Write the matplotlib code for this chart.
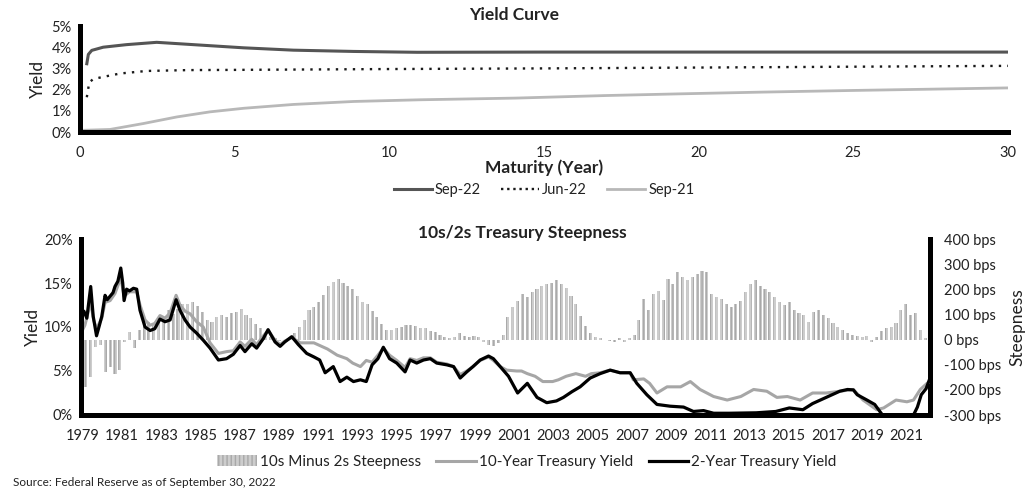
import matplotlib.pyplot as plt
import numpy as np
from matplotlib.patches import Patch
from matplotlib.lines import Line2D

plt.rcParams['font.family'] = ['Lato', 'DejaVu Sans']

# ---- yield curve (maturity in years, yield in %) ----
sep22_mat = [0.22, 0.27, 0.38, 0.75, 1.5, 2.48, 3.67, 5.3, 6.9, 8.85, 10.9, 15, 20, 25, 30]
sep22_yld = [3.22, 3.66, 3.85, 4.00, 4.12, 4.23, 4.12, 3.97, 3.86, 3.80, 3.76, 3.77, 3.77, 3.77, 3.77]

jun22_mat = [0.22, 0.30, 0.43, 0.75, 1.3, 2.16, 3.5, 5, 10, 15, 20, 25, 30]
jun22_yld = [1.64, 2.34, 2.50, 2.60, 2.76, 2.88, 2.92, 2.93, 2.97, 3.00, 3.04, 3.08, 3.12]

sep21_mat = [0.1, 0.97, 2.05, 3.13, 4.2, 5.3, 6.9, 8.85, 11, 14.1, 17, 19.4, 22, 25, 30]
sep21_yld = [0.08, 0.12, 0.40, 0.71, 0.95, 1.12, 1.30, 1.44, 1.52, 1.60, 1.72, 1.80, 1.88, 1.96, 2.08]

# ---- 2-year treasury yield (%) ----
y2_t = [1979.0, 1979.15, 1979.3, 1979.5, 1979.63, 1979.8, 1979.95, 1980.07, 1980.24, 1980.35,
        1980.5, 1980.65, 1980.75, 1980.9, 1981.05, 1981.15, 1981.22, 1981.35, 1981.5, 1981.7,
        1981.87, 1982.04, 1982.3, 1982.56, 1982.8, 1983.07, 1983.33, 1983.59, 1983.9, 1984.1,
        1984.36, 1984.62, 1984.96, 1985.3, 1985.65, 1986.08, 1986.5, 1986.85, 1987.2, 1987.45,
        1987.8, 1988.05, 1988.4, 1988.64, 1989.0, 1989.26, 1989.5, 1989.86, 1990.2, 1990.63,
        1991.0, 1991.3, 1991.58, 1992.0, 1992.35, 1992.7, 1993.04, 1993.4, 1993.7, 1994.0,
        1994.3, 1994.58, 1994.9, 1995.27, 1995.7, 1995.96, 1996.3, 1996.65, 1997.0, 1997.33,
        1997.85, 1998.2, 1998.54, 1998.88, 1999.2, 1999.57, 2000.0, 2000.25, 2000.6, 2001.03,
        2001.5, 2002.0, 2002.5, 2003.0, 2003.5, 2003.86, 2004.3, 2004.72, 2005.24, 2005.75,
        2006.27, 2006.78, 2007.3, 2007.64, 2008.16, 2008.68, 2009.36, 2010.05, 2010.56, 2011.08,
        2011.6, 2012.4, 2013.8, 2014.8, 2015.5, 2016.2, 2016.7, 2017.4, 2018.1, 2018.5,
        2018.8, 2019.0, 2019.5, 2019.9, 2020.3, 2021.0, 2021.9, 2022.1, 2022.3, 2022.55, 2022.75]
y2_v = [11.5, 11.8, 11.0, 14.6, 11.2, 9.0, 10.2, 11.2, 13.6, 13.1,
        13.5, 13.9, 14.6, 15.2, 16.7, 15.0, 13.0, 14.3, 14.1, 14.4,
        14.3, 11.9, 10.0, 9.6, 9.8, 10.9, 10.6, 10.8, 13.1, 11.9,
        10.8, 10.0, 9.3, 8.5, 7.6, 6.25, 6.4, 6.9, 7.9, 7.2,
        8.1, 7.6, 8.7, 9.7, 8.3, 7.8, 8.3, 8.9, 8.0, 7.0,
        6.6, 6.25, 4.8, 5.5, 3.8, 4.3, 3.8, 4.0, 3.8, 5.7,
        6.4, 7.7, 6.4, 5.9, 4.9, 6.25, 5.9, 6.25, 6.4, 5.9,
        5.7, 5.5, 4.2, 4.9, 5.5, 6.25, 6.7, 6.4, 5.5, 4.4,
        2.5, 3.6, 2.0, 1.4, 1.6, 2.0, 2.65, 3.2, 4.2, 4.7,
        5.1, 4.8, 4.8, 3.6, 2.3, 1.2, 1.0, 0.9, 0.4, 0.5,
        0.2, 0.2, 0.25, 0.4, 0.8, 0.6, 1.3, 2.0, 2.7, 2.9,
        2.85, 2.3, 1.7, 1.2, 0.0, 0.0, 0.0, 0.9, 2.3, 3.0, 4.2]

# ---- 10-year treasury yield (%) ----
y10_t = [1979.0, 1979.2, 1979.5, 1979.65, 1979.8, 1980.07, 1980.24, 1980.5, 1980.75, 1981.05,
         1981.22, 1981.5, 1981.87, 1982.04, 1982.3, 1982.56, 1982.8, 1983.07, 1983.33, 1983.59,
         1983.9, 1984.1, 1984.36, 1984.62, 1984.96, 1985.3, 1985.65, 1986.08, 1986.5, 1986.85,
         1987.2, 1987.45, 1987.8, 1988.05, 1988.4, 1988.64, 1989.0, 1989.26, 1989.5, 1989.86,
         1990.3, 1991.0, 1991.7, 1992.2, 1992.7, 1993.0, 1993.4, 1993.7, 1994.0, 1994.3,
         1994.58, 1994.9, 1995.27, 1995.7, 1995.96, 1996.3, 1996.65, 1997.0, 1997.33, 1997.85,
         1998.2, 1998.54, 1998.88, 1999.2, 1999.57, 2000.0, 2000.25, 2000.6, 2000.94, 2001.45,
         2001.7, 2002.0, 2002.4, 2002.8, 2003.3, 2003.6, 2004.0, 2004.5, 2005.0, 2005.3,
         2005.75, 2006.27, 2006.78, 2007.3, 2007.46, 2008.0, 2008.3, 2008.68, 2009.2, 2009.9,
         2010.4, 2010.9, 2011.6, 2012.3, 2013.0, 2013.66, 2014.34, 2014.86, 2015.4, 2016.06,
         2016.7, 2017.4, 2018.1, 2018.8, 2019.3, 2020.0, 2020.36, 2021.0, 2021.56, 2021.9,
         2022.25, 2022.6, 2022.75]
y10_v = [9.3, 10.2, 12.8, 10.8, 9.8, 11.0, 12.8, 13.0, 13.8, 15.6,
         13.5, 14.0, 14.0, 12.5, 10.8, 10.2, 10.4, 11.3, 11.0, 11.6,
         13.6, 12.5, 11.8, 11.5, 10.6, 10.0, 8.2, 7.0, 7.2, 7.3,
         8.3, 7.8, 8.6, 8.0, 9.0, 9.6, 8.5, 8.0, 8.4, 8.8,
         8.2, 8.2, 7.5, 6.8, 6.4, 5.9, 5.5, 6.2, 6.0, 6.8,
         7.6, 6.8, 6.2, 5.4, 6.4, 6.2, 6.5, 6.5, 6.0, 5.8,
         5.5, 4.6, 5.0, 5.5, 6.2, 6.6, 6.2, 5.5, 5.1, 5.0,
         5.0, 4.7, 4.4, 3.8, 3.8, 4.0, 4.4, 4.7, 4.4, 4.7,
         4.8, 5.1, 4.8, 4.8, 4.0, 4.1, 3.6, 2.5, 3.2, 3.2,
         3.8, 2.9, 2.1, 1.7, 2.1, 2.9, 2.7, 2.0, 2.1, 1.7,
         2.5, 2.5, 2.7, 2.9, 1.7, 0.6, 0.8, 1.7, 1.5, 1.7,
         2.9, 3.6, 3.8]

# ---- 10s minus 2s steepness (bps), quarterly from 1979.0 ----
steep_t = np.arange(1979.0, 2022.51, 0.25)
steep_bps = [-40, -190, -150, -30, -20, -130, -110, -138, -120, -10, 30, -35,
             40, 64, 71, 60, 90, 85, 117, 100, 120, 140, 143, 150,
             135, 110, 77, 71, 90, 97, 90, 104, 110, 123, 97, 84,
             60, 45, 15, 10, 5, -5, 0, 5, 25, 50, 78, 117,
             130, 150, 176, 215, 230, 241, 225, 215, 202, 175, 150, 143,
             115, 90, 60, 38, 40, 45, 50, 58, 58, 55, 48, 45,
             35, 32, 20, 12, 5, 10, 25, 15, 12, 15, 12, -10,
             -21, -27, -15, 20, 90, 130, 155, 182, 170, 189, 200, 215,
             222, 225, 235, 222, 205, 175, 140, 95, 55, 25, 10, 5,
             0, -5, -8, 5, -8, 5, 18, 78, 160, 117, 180, 195,
             156, 241, 222, 267, 250, 235, 248, 260, 274, 270, 182, 170,
             163, 140, 130, 143, 155, 190, 222, 235, 215, 200, 189, 170,
             150, 136, 150, 117, 105, 97, 71, 110, 117, 97, 84, 65,
             51, 40, 28, 18, 14, 12, 14, -8, 12, 35, 45, 50,
             65, 117, 143, 97, 104, 38, 5]

year_labels = list(range(1979, 2022, 2))

W, H = 1029, 491
fig = plt.figure(figsize=(W / 100, H / 100), dpi=100)

txt = '#222222'
spine_w = 3.6
tick_fs = 10.5

# ---------------- top: yield curve ----------------
ax1 = fig.add_axes([80 / W, 1 - 132 / H, 928 / W, 106 / H])
ax1.plot(sep21_mat, sep21_yld, color='#b8b8b8', lw=2.0, solid_capstyle='butt')
ax1.plot(jun22_mat, jun22_yld, color='#1a1a1a', lw=1.7, linestyle=(0, (1, 2.6)))
ax1.plot(sep22_mat, sep22_yld, color='#555555', lw=2.2)
ax1.set_xlim(0, 30)
ax1.set_ylim(0, 5)
ax1.set_xticks([0, 5, 10, 15, 20, 25, 30])
ax1.set_yticks([0, 1, 2, 3, 4, 5])
ax1.set_yticklabels([f'{v}%' for v in range(6)])
ax1.tick_params(length=0, labelsize=tick_fs, labelcolor=txt, pad=6)
ax1.tick_params(axis='x', pad=10)
for s in ['top', 'right']:
    ax1.spines[s].set_visible(False)
for s in ['left', 'bottom']:
    ax1.spines[s].set_linewidth(spine_w)
    ax1.spines[s].set_color('black')
ax1.set_ylabel('Yield', fontsize=12.5, color=txt, labelpad=4)
ax1.set_xlabel('Maturity (Year)', fontsize=12.5, fontweight='bold', color=txt, labelpad=0)
fig.text(0.5, 1 - 15 / H, 'Yield Curve', ha='center', va='center', fontsize=12.5,
         fontweight='bold', color=txt)

h_top = [Line2D([], [], color='#555555', lw=2.2),
         Line2D([], [], color='#1a1a1a', lw=1.7, linestyle=(0, (1, 1.6))),
         Line2D([], [], color='#b8b8b8', lw=2.0)]
fig.legend(h_top, ['Sep-22', 'Jun-22', 'Sep-21'], loc='center', ncol=3,
           bbox_to_anchor=(544 / W, 1 - 190 / H), frameon=False, fontsize=10.5,
           handlelength=2.6, handletextpad=0.2, columnspacing=1.4, labelcolor=txt)

# ---------------- bottom: 10s/2s steepness ----------------
ax2 = fig.add_axes([81 / W, 1 - 415 / H, 849 / W, 176 / H])
ax3 = ax2.twinx()
ax3.bar(steep_t, steep_bps, width=0.16, color='#cdcdcd', edgecolor='#a8a8a8',
        linewidth=0, hatch='||||')
ax3.set_ylim(-300, 400)
ax3.set_yticks(np.arange(-300, 401, 100))
ax3.set_yticklabels([f'{v} bps' for v in range(-300, 401, 100)])
ax3.tick_params(length=0, labelsize=tick_fs, labelcolor=txt, pad=10)
ax3.set_ylabel('Steepness', fontsize=12.5, color=txt, labelpad=6)

ax2.set_zorder(ax3.get_zorder() + 1)
ax2.patch.set_visible(False)
ax2.plot(y10_t, y10_v, color='#a6a6a6', lw=2.2)
ax2.plot(y2_t, y2_v, color='black', lw=2.3)
ax2.set_xlim(1979.0, 2022.75)
ax2.set_ylim(0, 20)
ax2.set_yticks([0, 5, 10, 15, 20])
ax2.set_yticklabels(['0%', '5%', '10%', '15%', '20%'])
ticks = [y + 0.1 + 0.0105 * (y - 1979) for y in year_labels]
ax2.set_xticks(ticks)
ax2.set_xticklabels([str(y) for y in year_labels])
ax2.tick_params(length=0, labelsize=tick_fs, labelcolor=txt, pad=6)
ax2.tick_params(axis='x', pad=10)
ax2.set_ylabel('Yield', fontsize=12.5, color=txt, labelpad=2)

for a in (ax2, ax3):
    a.spines['top'].set_visible(False)
ax2.spines['right'].set_visible(False)
ax3.spines['left'].set_visible(False)
ax3.spines['bottom'].set_visible(False)
for s in ['left', 'bottom']:
    ax2.spines[s].set_linewidth(spine_w)
    ax2.spines[s].set_color('black')
ax3.spines['right'].set_linewidth(spine_w)
ax3.spines['right'].set_color('black')

fig.text(0.508, 1 - 233 / H, '10s/2s Treasury Steepness', ha='center', va='center',
         fontsize=12.5, fontweight='bold', color=txt)

h_bot = [Patch(facecolor='#cdcdcd', edgecolor='#a8a8a8', hatch='||||', linewidth=0),
         Line2D([], [], color='#a6a6a6', lw=2.2),
         Line2D([], [], color='black', lw=2.3)]
fig.legend(h_bot, ['10s Minus 2s Steepness', '10-Year Treasury Yield', '2-Year Treasury Yield'],
           loc='center', ncol=3, bbox_to_anchor=(527 / W, 1 - 462 / H), frameon=False,
           fontsize=11, handlelength=2.6, handletextpad=0.2, columnspacing=1.0, labelcolor=txt)

fig.text(13 / W, 1 - 482 / H, 'Source: Federal Reserve as of September 30, 2022',
         ha='left', va='center', fontsize=8.5, color=txt)

fig.savefig('out.png', dpi=100)
